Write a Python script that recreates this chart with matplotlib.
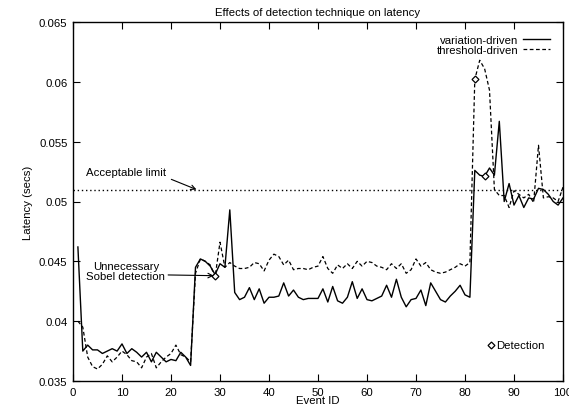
import matplotlib
matplotlib.use('Agg')
import matplotlib.pyplot as plt
import numpy as np

# event ids 1..100
events = list(range(1, 101))

variation = [
    0.0462, 0.0375, 0.0380, 0.0376, 0.0376, 0.0373, 0.0375, 0.0377, 0.0375, 0.0381,
    0.0373, 0.0377, 0.0374, 0.0370, 0.0374, 0.0366, 0.0374, 0.0370, 0.0366, 0.0368,
    0.0367, 0.0374, 0.0370, 0.0363, 0.0445, 0.0452, 0.0450, 0.0446, 0.0439, 0.0448,
    0.0445, 0.0493, 0.0424, 0.0418, 0.0420, 0.0428, 0.0418, 0.0427, 0.0415, 0.0420,
    0.0420, 0.0421, 0.0432, 0.0421, 0.0426, 0.0420, 0.0418, 0.0419, 0.0419, 0.0419,
    0.0427, 0.0416, 0.0429, 0.0417, 0.0415, 0.0420, 0.0433, 0.0419, 0.0427, 0.0418,
    0.0417, 0.0419, 0.0421, 0.0430, 0.0420, 0.0435, 0.0420, 0.0412, 0.0418, 0.0419,
    0.0426, 0.0413, 0.0432, 0.0425, 0.0418, 0.0416, 0.0421, 0.0425, 0.0430, 0.0422,
    0.0420, 0.0526, 0.0522, 0.0521, 0.0528, 0.0522, 0.0567, 0.0500, 0.0515, 0.0497,
    0.0505, 0.0495, 0.0503, 0.0502, 0.0511, 0.0510, 0.0506, 0.0500, 0.0497, 0.0503,
]

threshold = [
    0.0400, 0.0395, 0.0370, 0.0362, 0.0360, 0.0364, 0.0371, 0.0366, 0.0370, 0.0375,
    0.0372, 0.0367, 0.0366, 0.0361, 0.0370, 0.0373, 0.0361, 0.0366, 0.0370, 0.0373,
    0.0380, 0.0372, 0.0370, 0.0366, 0.0440, 0.0452, 0.0450, 0.0447, 0.0437, 0.0466,
    0.0445, 0.0449, 0.0446, 0.0444, 0.0444, 0.0445, 0.0449, 0.0448, 0.0442, 0.0451,
    0.0456, 0.0454, 0.0447, 0.0451, 0.0443, 0.0444, 0.0444, 0.0443, 0.0445, 0.0446,
    0.0454, 0.0444, 0.0440, 0.0447, 0.0444, 0.0448, 0.0444, 0.0450, 0.0446, 0.0450,
    0.0449, 0.0446, 0.0445, 0.0443, 0.0448, 0.0444, 0.0448, 0.0440, 0.0443, 0.0452,
    0.0446, 0.0449, 0.0443, 0.0441, 0.0440, 0.0441, 0.0443, 0.0445, 0.0448, 0.0446,
    0.0449, 0.0602, 0.0618, 0.0611, 0.0593, 0.0510, 0.0505, 0.0505, 0.0495, 0.0509,
    0.0506, 0.0503, 0.0506, 0.0499, 0.0547, 0.0503, 0.0504, 0.0503, 0.0500, 0.0512,
]

# detection points
det_x = [29, 82, 84]
det_y = [0.0438, 0.0602, 0.0521]

limit = 0.051

plt.rcParams['font.family'] = ['Liberation Sans', 'DejaVu Sans']
plt.rcParams['font.size'] = 8.2

fig = plt.figure(figsize=(5.69, 4.10), dpi=100)
ax = fig.add_axes([73/569, 28/410, 490/569, 359/410])

ax.plot(events, variation, color='black', lw=1.0, label='variation-driven')
ax.plot(events, threshold, color='black', lw=0.9, ls=(0, (3, 2)), label='threshold-driven')
ax.plot([0, 100], [limit, limit], color='black', lw=1.0, ls=(0, (1, 2)))
ax.plot(det_x, det_y, ls='none', marker='D', ms=3.5, mfc='white', mec='black', mew=0.9)

ax.annotate('Acceptable limit', xy=(25.2, limit), xytext=(10.8, 0.05245),
            ha='center', va='center',
            arrowprops=dict(arrowstyle='->', color='black', lw=0.8, shrinkA=2, shrinkB=0,
                            relpos=(1.0, 0.0)))
ax.annotate('Unnecessary\nSobel detection', xy=(29, 0.0438), xytext=(10.8, 0.0442),
            ha='center', va='center', linespacing=1.0,
            arrowprops=dict(arrowstyle='->', color='black', lw=0.8, shrinkA=0, shrinkB=1,
                            relpos=(1.0, 0.3)))

ax.legend(loc='upper right', frameon=False, markerfirst=False, handlelength=2.4,
          handletextpad=0.4, labelspacing=0.05, borderaxespad=0.7, fontsize=8.2)

ax.plot([85.3], [0.0380], ls='none', marker='D', ms=3.5, mfc='white', mec='black', mew=0.9)
ax.text(86.4, 0.0380, 'Detection', va='center', ha='left', fontsize=8.2)

ax.set_xlim(0, 100)
ax.set_ylim(0.035, 0.065)
ax.set_xticks(np.arange(0, 101, 10))
ax.set_yticks([0.035, 0.04, 0.045, 0.05, 0.055, 0.06, 0.065])
ax.set_yticklabels(['0.035', '0.04', '0.045', '0.05', '0.055', '0.06', '0.065'])
ax.tick_params(direction='in', top=True, right=True, length=5, width=0.8, pad=4)
for s in ax.spines.values():
    s.set_linewidth(1.0)

ax.set_title('Effects of detection technique on latency', fontsize=8.2, pad=5)
ax.set_xlabel('Event ID', labelpad=-1)
ax.set_ylabel('Latency (secs)', labelpad=4)

fig.savefig('out.png', dpi=100)
